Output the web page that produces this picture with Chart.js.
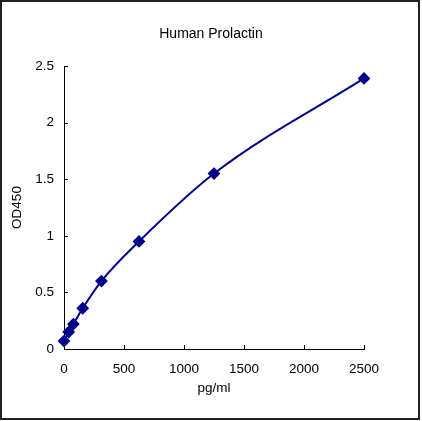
<!DOCTYPE html>
<html>
<head>
<meta charset="utf-8">
<script src="https://cdn.jsdelivr.net/npm/chart.js@4"></script>
<style>
  html, body { margin: 0; padding: 0; background: #fff; }
  canvas { display: block; }
</style>
</head>
<body>
<canvas id="myChart" width="422" height="421"></canvas>
<script>
// standard concentrations (pg/ml) and measured OD450
const concentrations = [0, 39, 78, 156, 312, 625, 1250, 2500];
const od450 = [0.07, 0.15, 0.22, 0.36, 0.60, 0.95, 1.55, 2.39];
const xTicks = [0, 500, 1000, 1500, 2000, 2500];
const yTicks = [0, 0.5, 1, 1.5, 2, 2.5];

const navy = '#00008B';
const font = { family: 'Liberation Sans, Arial, sans-serif', size: 13.5 };

// draws the small inward tick marks and the outer frame
const innerTicks = {
    id: 'innerTicks',
    afterDraw(chart) {
        const c = chart.ctx;
        const x = chart.scales.x, y = chart.scales.y;
        const area = chart.chartArea;
        c.save();
        c.strokeStyle = '#000';
        c.lineWidth = 1;
        c.beginPath();
        yTicks.forEach(v => {
            const py = Math.round(y.getPixelForValue(v)) + 0.5;
            c.moveTo(area.left, py);
            c.lineTo(area.left + 4, py);
        });
        xTicks.forEach(v => {
            const px = Math.round(x.getPixelForValue(v)) + 0.5;
            c.moveTo(px, area.bottom);
            c.lineTo(px, area.bottom - 4);
        });
        c.stroke();
        c.strokeStyle = '#222';
        c.lineWidth = 2;
        c.strokeRect(1, 1, 418, 418);
        c.restore();
    }
};

new Chart(document.getElementById('myChart').getContext('2d'), {
    type: 'scatter',
    data: {
        datasets: [{
            label: 'Human Prolactin',
            data: concentrations.map((c, i) => ({ x: c, y: od450[i] })),
            showLine: true,
            clip: false,
            cubicInterpolationMode: 'monotone',
            borderColor: navy,
            backgroundColor: navy,
            borderWidth: 2,
            pointStyle: 'rectRot',
            pointRadius: 5,
            pointHoverRadius: 5
        }]
    },
    options: {
        responsive: false,
        animation: false,
        layout: { padding: 0 },
        plugins: {
            legend: { display: false },
            tooltip: { enabled: false },
            title: {
                display: true,
                text: 'Human Prolactin',
                color: '#000',
                font: { ...font, size: 14, weight: 'normal' },
                padding: { top: 25.6, bottom: 23.6 }
            }
        },
        scales: {
            x: {
                type: 'linear',
                min: 0,
                max: 2500,
                afterFit: s => { s.height = 72; },
                afterBuildTicks: s => { s.ticks = xTicks.map(v => ({ value: v })); },
                grid: { display: false, drawTicks: false },
                border: { display: true, color: '#000', width: 1 },
                ticks: { color: '#000', font, padding: 12, maxRotation: 0, callback: v => String(v) },
                title: { display: true, text: 'pg/ml', color: '#000', font, padding: { bottom: 25 } }
            },
            y: {
                type: 'linear',
                min: 0,
                max: 2.5,
                afterFit: s => { s.width = 64; },
                afterBuildTicks: s => { s.ticks = yTicks.map(v => ({ value: v })); },
                grid: { display: false, drawTicks: false },
                border: { display: true, color: '#000', width: 1 },
                ticks: { color: '#000', font, padding: 10, callback: v => String(v) },
                title: { display: true, text: 'OD450', color: '#000', font, padding: { top: 9 } }
            },
            // empty right-hand spacer so the title centres on the full width
            spacer: {
                type: 'linear',
                position: 'right',
                display: true,
                afterFit: s => { s.width = 58; },
                grid: { display: false, drawTicks: false },
                border: { display: false },
                ticks: { display: false }
            }
        }
    },
    plugins: [innerTicks]
});
</script>
</body>
</html>
